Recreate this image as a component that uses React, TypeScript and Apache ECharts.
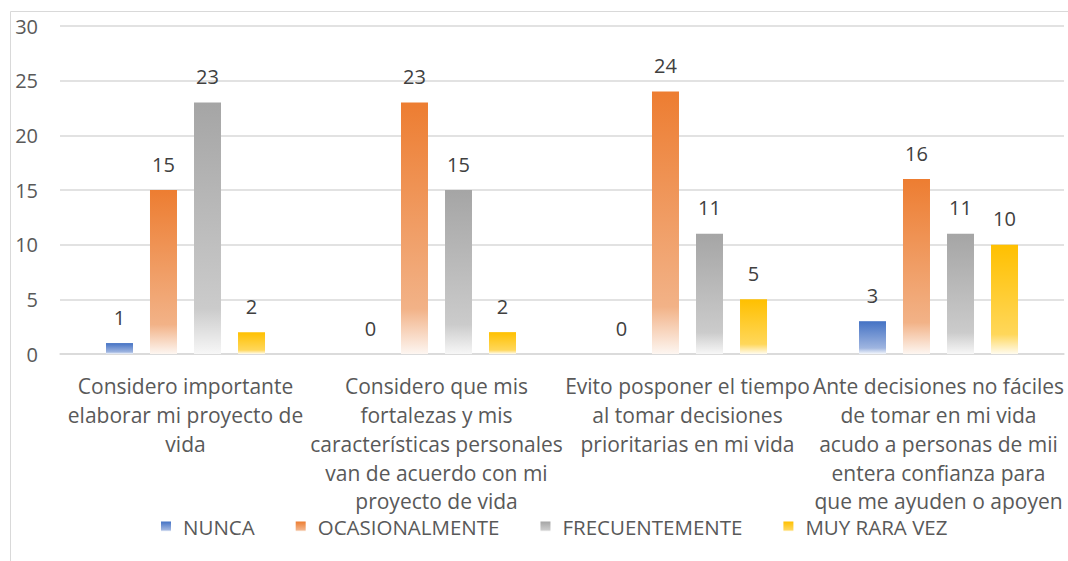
import React, { useEffect, useRef } from "react";
import * as echarts from "echarts";

const categories = [
  "Considero importante\nelaborar mi proyecto de\nvida",
  "Considero que mis\nfortalezas y mis\ncaracterísticas personales\nvan de acuerdo con mi\nproyecto de vida",
  "Evito posponer el tiempo\nal tomar decisiones\nprioritarias en mi vida",
  "Ante decisiones no fáciles\nde tomar en mi vida\nacudo a personas de mii\nentera confianza para\nque me ayuden o apoyen",
];
const seriesNames = ["NUNCA", "OCASIONALMENTE", "FRECUENTEMENTE", "MUY RARA VEZ"];
const nunca = [1, 0, 0, 3];
const ocasionalmente = [15, 23, 24, 16];
const frecuentemente = [23, 15, 11, 11];
const muyRaraVez = [2, 2, 5, 10];
const seriesColors = [
  ["#4472C4", "#9fb5e0", "#f3f6fb"],
  ["#ED7D31", "#f2b287", "#fdf6f1"],
  ["#A5A5A5", "#cbcbcb", "#f7f7f7"],
  ["#FFC000", "#ffd75a", "#fffbee"],
];
const yTicks = { min: 0, max: 30, interval: 5 };

const FONT = "'Open Sans', Lato, sans-serif";
const TXT = "#595959";

export default function App() {
  const ref = useRef<HTMLDivElement>(null);
  useEffect(() => {
    if (!ref.current) return;
    const chart = echarts.init(ref.current, null, { renderer: "svg" });
    const values = [nunca, ocasionalmente, frecuentemente, muyRaraVez];
    const series = values.map((data, i) => ({
      name: seriesNames[i],
      type: "bar",
      data,
      barWidth: 27,
      barGap: "63%",
      itemStyle: {
        color: new echarts.graphic.LinearGradient(0, 0, 0, 1, [
          { offset: 0, color: seriesColors[i][0] },
          { offset: 0.82, color: seriesColors[i][1] },
          { offset: 1, color: seriesColors[i][2] },
        ]),
      },
      label: {
        show: true,
        position: "top",
        distance: 16,
        color: "#404040",
        fontSize: 20,
        fontFamily: FONT,
      },
    }));
    chart.setOption({
      animation: false,
      backgroundColor: "#fff",
      textStyle: { fontFamily: FONT },
      graphic: [
        {
          type: "rect",
          shape: { x: 10.5, y: 11.5, width: 1100, height: 600 },
          style: { fill: "none", stroke: "#d9d9d9", lineWidth: 1 },
          silent: true,
        },
      ],
      grid: { left: 60, right: 4, top: 26, bottom: 207, containLabel: false },
      legend: {
        bottom: 19,
        left: 156,
        itemWidth: 10,
        itemHeight: 10,
        itemGap: 41,
        icon: "rect",
        textStyle: { color: TXT, fontSize: 20.5, fontFamily: FONT, padding: [0, 0, 0, 7] },
        data: seriesNames,
      },
      xAxis: {
        type: "category",
        data: categories,
        axisLine: { lineStyle: { color: "#d9d9d9", width: 1.5 } },
        axisTick: { show: false },
        axisLabel: {
          color: TXT,
          fontSize: 21,
          fontFamily: FONT,
          lineHeight: 28.75,
          margin: 18,
          interval: 0,
        },
      },
      yAxis: {
        type: "value",
        min: yTicks.min,
        max: yTicks.max,
        interval: yTicks.interval,
        axisLine: { show: false },
        axisTick: { show: false },
        splitLine: { lineStyle: { color: "#d9d9d9", width: 1.5 } },
        axisLabel: { color: TXT, fontSize: 20, fontFamily: FONT, margin: 22 },
      },
      series,
    });
    return () => chart.dispose();
  }, []);
  return (
    <div
      ref={ref}
      style={{ position: "fixed", left: 0, top: 0, width: 1068, height: 561 }}
    />
  );
}
